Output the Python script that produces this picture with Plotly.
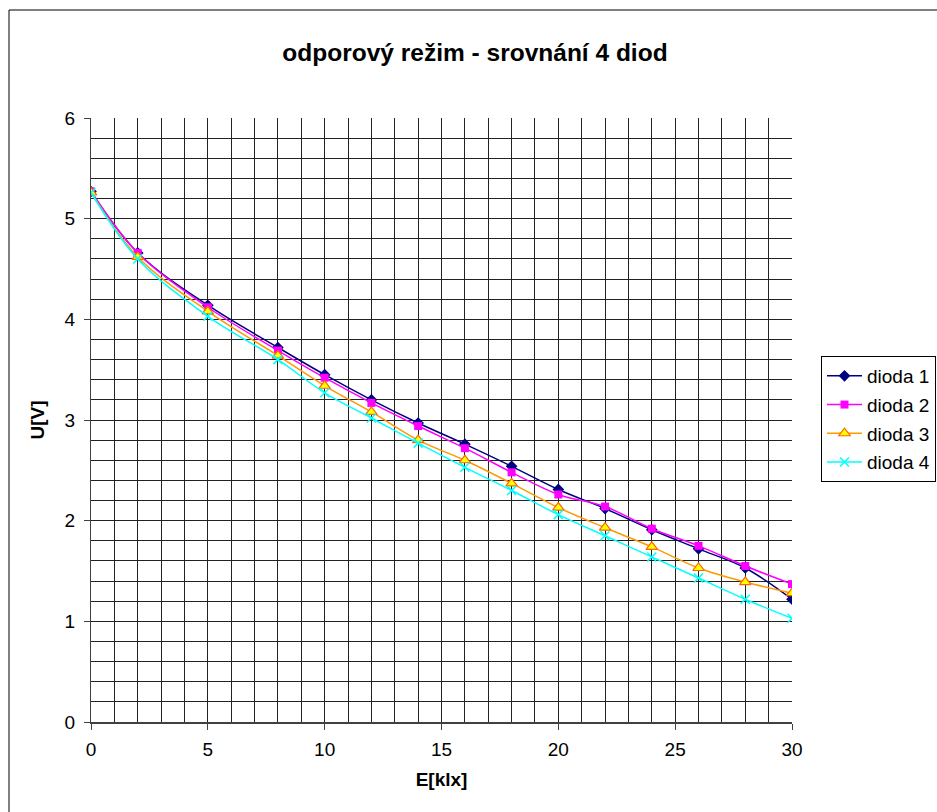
import plotly.graph_objects as go

E = [0, 2, 5, 8, 10, 12, 14, 16, 18, 20, 22, 24, 26, 28, 30]
dioda1 = [5.27, 4.66, 4.14, 3.72, 3.45, 3.20, 2.97, 2.76, 2.54, 2.31, 2.12, 1.91, 1.72, 1.53, 1.22]
dioda2 = [5.27, 4.66, 4.12, 3.69, 3.42, 3.17, 2.94, 2.72, 2.48, 2.26, 2.14, 1.92, 1.75, 1.55, 1.37]
dioda3 = [5.26, 4.62, 4.08, 3.64, 3.34, 3.08, 2.80, 2.60, 2.37, 2.13, 1.93, 1.74, 1.53, 1.39, 1.28]
dioda4 = [5.26, 4.60, 4.03, 3.60, 3.27, 3.02, 2.77, 2.53, 2.30, 2.06, 1.85, 1.64, 1.43, 1.22, 1.03]

names = ["dioda 1", "dioda 2", "dioda 3", "dioda 4"]
FONT = "Liberation Sans, Arial, sans-serif"

fig = go.Figure()
styles = [
    dict(line=dict(color="#000080", width=1.5), marker=dict(symbol="diamond", size=9, color="#000080")),
    dict(line=dict(color="#FF00FF", width=1.5), marker=dict(symbol="square", size=8, color="#FF00FF")),
    dict(line=dict(color="#FF9900", width=1.5), marker=dict(symbol="triangle-up", size=10, color="#FFFF00",
                                                            line=dict(color="#FF6600", width=1.2))),
    dict(line=dict(color="#00FFFF", width=1.5), marker=dict(symbol="x-thin", size=9, color="#00FFFF",
                                                            line=dict(color="#00FFFF", width=1.5))),
]
for i, (n, ys) in enumerate(zip(names, [dioda1, dioda2, dioda3, dioda4])):
    fig.add_trace(go.Scatter(x=E, y=ys, name=n, mode="lines+markers",
                             line_shape="spline", legendgroup=f"g{i}", **styles[i]))

W, H = 937, 812
L, R, T, B = 91, 792, 118, 722
pw, ph = R - L, B - T

def px(x):
    return (x - L) / pw

def py(y):
    return (B - y) / ph

fig.add_shape(type="rect", xref="paper", yref="paper",
              x0=px(9), x1=px(945), y0=py(10), y1=py(820),
              line=dict(color="black", width=1), layer="below")

fig.update_layout(
    width=W, height=H,
    margin=dict(l=L, r=W - R, t=T, b=H - B, autoexpand=False),
    paper_bgcolor="white", plot_bgcolor="white",
    font=dict(family=FONT, size=19, color="black"),
    title=dict(text="<b>odporový režim - srovnání 4 diod</b>", x=475 / W, xanchor="center",
               y=1 - 52 / H, yanchor="middle", font=dict(size=24.5, family=FONT)),
    showlegend=True,
    legend=dict(x=px(821), y=py(356), xanchor="left", yanchor="top",
                bordercolor="black", borderwidth=1, bgcolor="white",
                font=dict(size=19, family=FONT), tracegroupgap=1,
                itemwidth=35),
)
fig.update_xaxes(range=[0, 30], tickvals=[0, 5, 10, 15, 20, 25, 30], ticks="outside", ticklen=6,
                 tickcolor="#404040", showgrid=True, gridcolor="#222222", gridwidth=1,
                 minor=dict(dtick=1, showgrid=True, gridcolor="#222222", gridwidth=1),
                 showline=True, linecolor="#404040", linewidth=2, zeroline=False,
                 ticklabelstandoff=3,
                 title=dict(text="<b>E[klx]</b>", font=dict(size=19), standoff=14),
                 tickfont=dict(size=19))
fig.update_yaxes(range=[0, 6], tickvals=[0, 1, 2, 3, 4, 5, 6], ticks="outside", ticklen=6,
                 tickcolor="#404040", showgrid=True, gridcolor="#222222", gridwidth=1,
                 minor=dict(dtick=0.2, showgrid=True, gridcolor="#222222", gridwidth=1),
                 showline=True, linecolor="#404040", linewidth=1, zeroline=False,
                 ticklabelstandoff=5,
                 title=dict(text="<b>U[V]</b>", font=dict(size=19), standoff=14),
                 tickfont=dict(size=19))

fig.write_html("out.html")
